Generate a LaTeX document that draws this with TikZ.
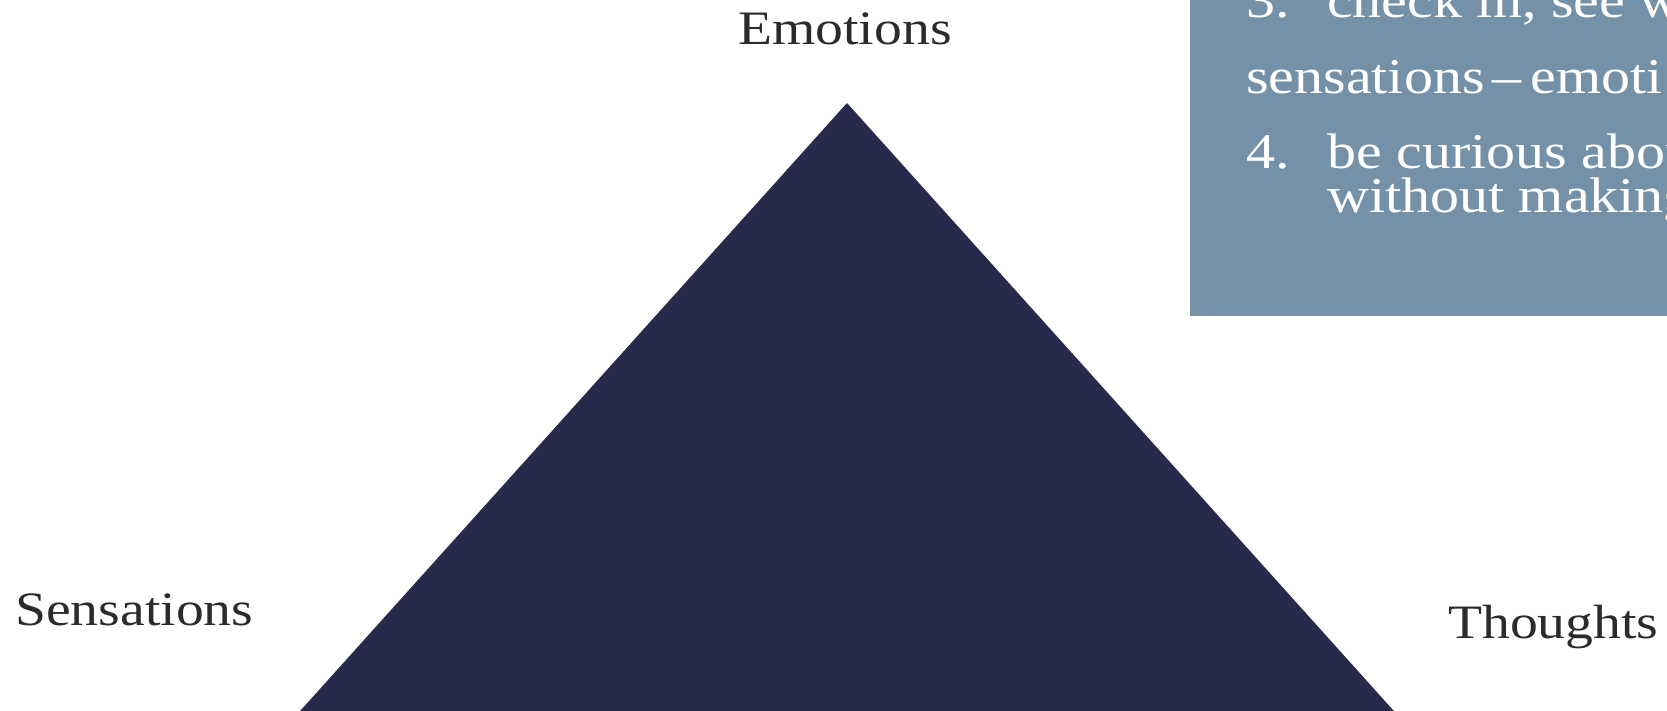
\documentclass[tikz,border=0pt]{standalone}
\usepackage{fontspec}
\setmainfont{Liberation Serif}[FakeStretch=1.16]
\usetikzlibrary{positioning}
\definecolor{pyramidnavy}{HTML}{272A4A}
\definecolor{notesteel}{HTML}{7591A7}
\definecolor{labelgray}{HTML}{2B2B2B}

\begin{document}
\begin{tikzpicture}[
  x=1pt, y=-1pt,
  cornerlabel/.style={font=\fontsize{48}{56}\selectfont, text=labelgray,
    inner sep=0pt},
  notetext/.style={font=\fontsize{50}{44}\selectfont, text=white,
    inner sep=0pt, anchor=base west}
]
\useasboundingbox (0,0) rectangle (1667,710);
\clip (0,0) rectangle (1667,710);

% pyramid
\coordinate (apex) at (847,103);
\coordinate (baseL) at (292,720);
\coordinate (baseR) at (1402,720);
\fill[pyramidnavy] (apex) -- (baseR) -- (baseL) -- cycle;

% note panel, runs off the page
\fill[notesteel] (1190,-10) rectangle (1680,316);
\node[notetext] (num3) at (1246,17) {3.};
\node[notetext] (step3) at (1327,17) {check in, see wh};
\node[notetext] (sens) at (1246,93) {sensations\,--\,emoti};
\node[notetext] (num4) at (1246,168) {4.};
\node[notetext] (step4) at (1327,168) {be curious abou};
\node[notetext] (step4b) at (1327,212) {without making};

% corner labels
\node[cornerlabel, anchor=base] (emotions) at (845,44) {Emotions};
\node[cornerlabel, anchor=base west] (sensations) at (15,625) {Sensations};
\node[cornerlabel, anchor=base west] (thoughts) at (1448,638) {Thoughts};
\end{tikzpicture}
\end{document}
